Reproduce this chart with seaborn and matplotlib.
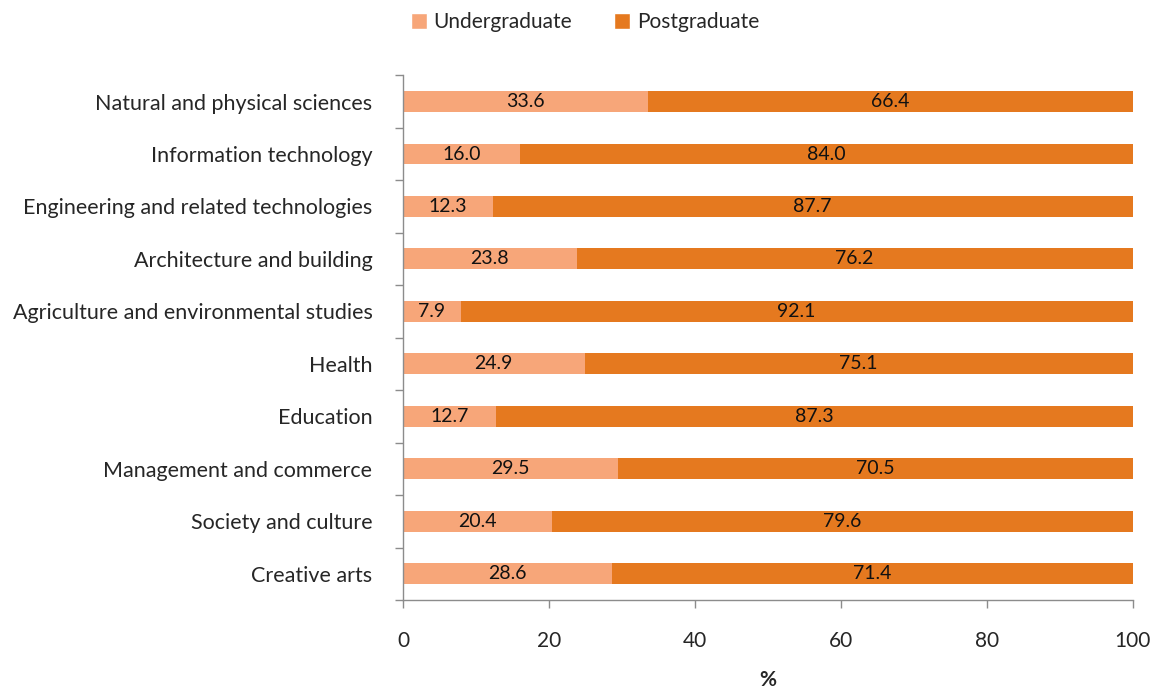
import numpy as np
import pandas as pd
import matplotlib
matplotlib.use("Agg")
import matplotlib.pyplot as plt
import seaborn as sns
from matplotlib.patches import Patch

categories = ["Natural and physical sciences", "Information technology",
              "Engineering and related technologies", "Architecture and building",
              "Agriculture and environmental studies", "Health", "Education",
              "Management and commerce", "Society and culture", "Creative arts"]
undergraduate = [33.6, 16.0, 12.3, 23.8, 7.9, 24.9, 12.7, 29.5, 20.4, 28.6]
postgraduate = [66.4, 84.0, 87.7, 76.2, 92.1, 75.1, 87.3, 70.5, 79.6, 71.4]
xticks = [0, 20, 40, 60, 80, 100]

ug_color = "#F7A679"
pg_color = "#E5791F"

sns.set_theme(style="white")
plt.rcParams['font.family'] = ['Lato', 'DejaVu Sans']

df = pd.DataFrame({"cat": categories, "ug": undergraduate, "pg": postgraduate})
df["total"] = df["ug"] + df["pg"]

fig = plt.figure(figsize=(11.58, 6.97), dpi=100)
ax = fig.add_axes([0.348, 0.139, 0.630, 0.753])

sns.barplot(data=df, y="cat", x="total", color=pg_color, orient="h",
            width=0.4, ax=ax, saturation=1, linewidth=0)
sns.barplot(data=df, y="cat", x="ug", color=ug_color, orient="h",
            width=0.4, ax=ax, saturation=1, linewidth=0)

for i, (u, p) in enumerate(zip(undergraduate, postgraduate)):
    ax.text(u / 2, i, f"{u:.1f}", ha="center", va="center", fontsize=14, color="#111111")
    ax.text(u + p / 2, i, f"{p:.1f}", ha="center", va="center", fontsize=14, color="#111111")

ax.set_xlim(0, 100)
ax.set_ylim(len(categories) - 0.5, -0.5)
ax.set_xticks(xticks)
ax.set_xticklabels([str(t) for t in xticks], fontsize=15)
ax.set_ylabel("")
ax.set_xlabel("%", fontsize=15, fontweight="bold", labelpad=14)
ax.tick_params(axis="y", which="major", length=0, labelsize=15.5, pad=22)
ax.set_yticks(np.arange(-0.5, len(categories), 1.0), minor=True)
ax.tick_params(axis="y", which="minor", length=6, color="#8C8C8C", width=1, direction="out", left=True)
ax.tick_params(axis="x", which="major", length=6, color="#8C8C8C", width=1, direction="out", bottom=True, pad=16)

for s in ["top", "right"]:
    ax.spines[s].set_visible(False)
for s in ["left", "bottom"]:
    ax.spines[s].set_color("#8C8C8C")
    ax.spines[s].set_linewidth(1)

handles = [Patch(facecolor=ug_color, label="Undergraduate"),
           Patch(facecolor=pg_color, label="Postgraduate")]
fig.legend(handles=handles, loc="center", bbox_to_anchor=(0.505, 0.968), ncol=2,
           frameon=False, fontsize=15, handlelength=0.8, handleheight=0.8,
           handletextpad=0.3, columnspacing=2.0)

fig.savefig("out.png", dpi=100)
